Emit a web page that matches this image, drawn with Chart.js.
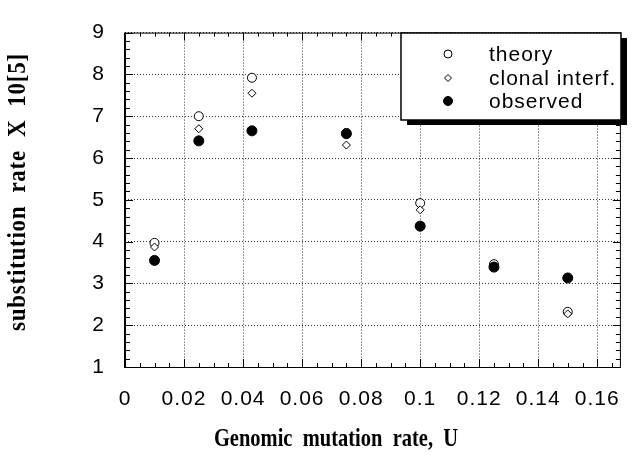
<!DOCTYPE html>
<html>
<head>
<meta charset="utf-8">
<script src="https://cdn.jsdelivr.net/npm/chart.js@4/dist/chart.umd.min.js"></script>
<style>
  html, body { margin: 0; padding: 0; background: #fff; }
  #wrap { width: 638px; height: 462px; }
</style>
</head>
<body>
<div id="wrap"><canvas id="rateChart" width="638" height="462"></canvas></div>
<script>
// values
var mutationRates = [0.01, 0.025, 0.043, 0.075, 0.1, 0.125, 0.15];
var theoryValues = [3.97, 7.0, 7.92, 6.6, 4.92, 3.46, 2.32];
var clonalValues = [3.87, 6.7, 7.55, 6.31, 4.76, 3.42, 2.27];
var observedValues = [3.55, 6.41, 6.65, 6.58, 4.37, 3.39, 3.13];
var seriesLabels = ["theory", "clonal interf.", "observed"];
var xTickValues = [0, 0.02, 0.04, 0.06, 0.08, 0.1, 0.12, 0.14, 0.16];
var yTickValues = [1, 2, 3, 4, 5, 6, 7, 8, 9];
var xTitle = "Genomic  mutation  rate,  U";
var yTitle = "substitution  rate  X  10[5]";

function toPoints(ys) {
    return mutationRates.map(function (x, i) { return { x: x, y: ys[i] }; });
}

var sansFont = "'Liberation Sans', Arial, sans-serif";
var serifFont = "'Liberation Serif', 'Times New Roman', serif";

// frame with inward major/minor ticks on all four sides, plus axis titles
var framePlugin = {
    id: "frame",
    beforeDraw: function (chart) {
        chart.ctx.letterSpacing = "1px";
    },
    afterDraw: function (chart) {
        var ctx = chart.ctx;
        var a = chart.chartArea;
        var xs = chart.scales.x, ys = chart.scales.y;
        ctx.save();
        ctx.strokeStyle = "#000";
        ctx.lineWidth = 1;
        ctx.beginPath();
        var v, px, major;
        for (var k = 0; k <= 33; k++) {
            v = k * 0.005;
            px = Math.round(xs.getPixelForValue(v)) + 0.5;
            major = k % 4 === 0;
            var len = major ? 8 : 4;
            ctx.moveTo(px, a.bottom); ctx.lineTo(px, a.bottom - len);
            ctx.moveTo(px, a.top); ctx.lineTo(px, a.top + len);
        }
        for (var j = 0; j <= 40; j++) {
            v = 1 + j * 0.2;
            px = Math.round(ys.getPixelForValue(v)) + 0.5;
            major = j % 5 === 0;
            var l2 = major ? 8 : 5;
            ctx.moveTo(a.left, px); ctx.lineTo(a.left + l2, px);
            ctx.moveTo(a.right, px); ctx.lineTo(a.right - l2, px);
        }
        ctx.stroke();
        ctx.beginPath();
        ctx.rect(a.left + 0.5, a.top + 0.5, a.right - a.left - 1, a.bottom - a.top);
        ctx.stroke();
        ctx.lineWidth = 2;
        ctx.beginPath();
        ctx.moveTo(a.left, a.top); ctx.lineTo(a.left, a.bottom + 1);
        ctx.stroke();

        // axis titles (slightly tall bold serif, as in the original)
        ctx.fillStyle = "#000";
        ctx.textAlign = "center";
        ctx.textBaseline = "middle";
        ctx.save();
        ctx.translate(336, 440);
        ctx.scale(1, 1.18);
        ctx.font = "bold 20.5px " + serifFont;
        ctx.letterSpacing = "0px";
        ctx.fillText(xTitle, 0, 0);
        ctx.restore();
        ctx.translate(18, 192);
        ctx.rotate(-Math.PI / 2);
        ctx.scale(1, 1.12);
        ctx.font = "bold 23px " + serifFont;
        ctx.letterSpacing = "0.75px";
        ctx.fillText(yTitle, 0, 0);
        ctx.restore();
    }
};

// boxed legend with a drop shadow, top right of the plot
var boxLegendPlugin = {
    id: "boxLegend",
    afterDraw: function (chart) {
        var ctx = chart.ctx;
        var bx = 401, by = 33, bw = 220, bh = 87;
        ctx.save();
        ctx.fillStyle = "#000";
        ctx.fillRect(bx + 6, by + 5, bw, bh);
        ctx.fillStyle = "#fff";
        ctx.fillRect(bx, by, bw, bh);
        ctx.strokeStyle = "#000";
        ctx.lineWidth = 1.5;
        ctx.strokeRect(bx, by, bw, bh);
        ctx.font = "21px " + sansFont;
        ctx.letterSpacing = "1px";
        ctx.textBaseline = "middle";
        var rowY = [54, 78, 101];
        chart.data.datasets.forEach(function (ds, i) {
            var sx = 448, sy = rowY[i];
            var r = ds.pointRadius - 0.5;
            ctx.fillStyle = ds.backgroundColor;
            ctx.strokeStyle = ds.borderColor;
            ctx.lineWidth = ds.borderWidth;
            ctx.beginPath();
            if (ds.pointStyle === "circle") {
                ctx.arc(sx, sy, r, 0, Math.PI * 2);
            } else {
                ctx.moveTo(sx, sy - r); ctx.lineTo(sx + r, sy);
                ctx.lineTo(sx, sy + r); ctx.lineTo(sx - r, sy);
                ctx.closePath();
            }
            ctx.fill();
            ctx.stroke();
            ctx.fillStyle = "#000";
            ctx.fillText(ds.label, 489, sy + 1);
        });
        ctx.restore();
    }
};

var ctx = document.getElementById("rateChart").getContext("2d");
new Chart(ctx, {
    type: "scatter",
    data: {
        datasets: [{
            label: seriesLabels[0],
            data: toPoints(theoryValues),
            pointStyle: "circle",
            pointRadius: 4.5,
            borderWidth: 1,
            borderColor: "#000",
            backgroundColor: "#fff",
            order: 2
        }, {
            label: seriesLabels[1],
            data: toPoints(clonalValues),
            pointStyle: "rectRot",
            pointRadius: 4,
            borderWidth: 1,
            borderColor: "#000",
            backgroundColor: "#fff",
            order: 1
        }, {
            label: seriesLabels[2],
            data: toPoints(observedValues),
            pointStyle: "circle",
            pointRadius: 5,
            borderWidth: 1,
            borderColor: "#000",
            backgroundColor: "#000",
            order: 0
        }]
    },
    options: {
        responsive: false,
        animation: false,
        layout: { padding: { top: 15, right: 2, left: 0, bottom: 0 } },
        plugins: {
            legend: { display: false },
            tooltip: { enabled: false }
        },
        scales: {
            x: {
                type: "linear",
                min: 0,
                max: 0.168,
                afterBuildTicks: function (scale) {
                    scale.ticks = xTickValues.map(function (v) { return { value: v }; });
                },
                afterFit: function (scale) { scale.height = 95; },
                grid: { color: "#333", lineWidth: 1, drawTicks: false },
                border: { display: false, dash: [1, 2] },
                ticks: {
                    padding: 20,
                    color: "#000",
                    font: { family: sansFont, size: 21 },
                    maxRotation: 0,
                    autoSkip: false,
                    callback: function (v) { return String(Number(v.toFixed(3))); }
                }
            },
            y: {
                min: 1,
                max: 9,
                afterBuildTicks: function (scale) {
                    scale.ticks = yTickValues.map(function (v) { return { value: v }; });
                },
                afterFit: function (scale) { scale.width = 125; },
                grid: { color: "#333", lineWidth: 1, drawTicks: false },
                border: { display: false, dash: [1, 2] },
                ticks: {
                    padding: 20,
                    color: "#000",
                    font: { family: sansFont, size: 21 },
                    autoSkip: false
                }
            }
        }
    },
    plugins: [framePlugin, boxLegendPlugin]
});
</script>
</body>
</html>
